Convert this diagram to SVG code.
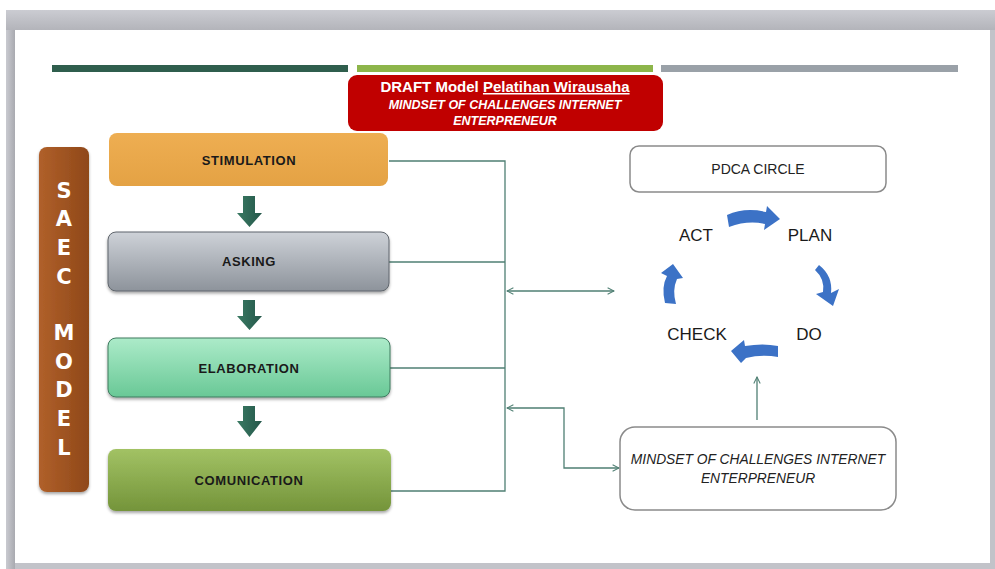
<svg xmlns="http://www.w3.org/2000/svg" width="995" height="569" viewBox="0 0 995 569">
<style>
.box-t{font-family:"Liberation Sans",Arial,sans-serif;font-weight:bold;font-size:13px;fill:#1a1a1a;text-anchor:middle;letter-spacing:0.6px}
.saec{font-family:"DejaVu Sans","Liberation Sans",sans-serif;font-weight:bold;font-size:21px;fill:#ffffff;text-anchor:middle}
.title{font-family:"Liberation Sans",Arial,sans-serif;fill:#ffffff;text-anchor:middle;font-weight:bold}
.pd{font-family:"Liberation Sans",Arial,sans-serif;font-size:17px;fill:#1a1a1a;text-anchor:middle}
.conn{fill:none;stroke:#4f7f73;stroke-width:1.3}
.blue{fill:#3c72c6}
.darr{fill:url(#gArr)}
</style>
<defs>
<linearGradient id="gFrameL" x1="0" y1="0" x2="1" y2="0"><stop offset="0" stop-color="#c9cad0"/><stop offset="1" stop-color="#a9aab0"/></linearGradient>
<linearGradient id="gFrameT" x1="0" y1="0" x2="0" y2="1"><stop offset="0" stop-color="#cbccd2"/><stop offset="1" stop-color="#b3b4ba"/></linearGradient>
<linearGradient id="gSaec" x1="0" y1="0" x2="1" y2="0"><stop offset="0" stop-color="#b0602a"/><stop offset="1" stop-color="#8f4819"/></linearGradient>
<linearGradient id="gStim" x1="0" y1="0" x2="0" y2="1"><stop offset="0" stop-color="#eeae52"/><stop offset="1" stop-color="#e4a244"/></linearGradient>
<linearGradient id="gAsk" x1="0" y1="0" x2="0" y2="1"><stop offset="0" stop-color="#ced2d8"/><stop offset="1" stop-color="#8d939b"/></linearGradient>
<linearGradient id="gElab" x1="0" y1="0" x2="0" y2="1"><stop offset="0" stop-color="#acebc9"/><stop offset="1" stop-color="#69c896"/></linearGradient>
<linearGradient id="gCom" x1="0" y1="0" x2="0" y2="1"><stop offset="0" stop-color="#a2c264"/><stop offset="1" stop-color="#74943a"/></linearGradient>
<linearGradient id="gArr" x1="0" y1="0" x2="1" y2="0"><stop offset="0" stop-color="#3a7a63"/><stop offset="1" stop-color="#24574a"/></linearGradient>
<marker id="mh" viewBox="0 0 10 10" refX="9" refY="5" markerWidth="8" markerHeight="8" markerUnits="userSpaceOnUse" orient="auto-start-reverse"><path d="M1,1 L9,5 L1,9" fill="none" stroke="#4f7f73" stroke-width="1.3"/></marker>
<filter id="sh" x="-5%" y="-10%" width="110%" height="130%"><feDropShadow dx="0" dy="2" stdDeviation="1.5" flood-color="#000" flood-opacity="0.35"/></filter>
</defs>

<!-- slide frame -->
<rect x="0" y="0" width="995" height="569" fill="#ffffff"/>
<rect x="6" y="10" width="989" height="559" fill="#c2c3c9"/>
<rect x="6" y="10" width="989" height="20" fill="url(#gFrameT)"/>
<rect x="6" y="30" width="9" height="539" fill="url(#gFrameL)"/>
<rect x="15" y="30" width="975" height="533" fill="#ffffff"/>

<!-- top lines -->
<rect x="52" y="65" width="296" height="7" fill="#2f5e4d"/>
<rect x="357" y="65" width="296" height="7" fill="#8db54a"/>
<rect x="661" y="65" width="297" height="7" fill="#9aa1a8"/>

<!-- title -->
<g id="title">
<rect x="348" y="75" width="315" height="56" rx="9" fill="#c00000"/>
<text class="title" x="505" y="92" font-size="15">DRAFT Model <tspan text-decoration="underline">Pelatihan Wirausaha</tspan></text>
<text class="title" x="505" y="109" font-size="12.5" font-style="italic">MINDSET OF CHALLENGES INTERNET</text>
<text class="title" x="505" y="125" font-size="12.5" font-style="italic">ENTERPRENEUR</text>
</g>

<!-- SAEC model bar -->
<g id="saec">
<rect x="39" y="147" width="50" height="345" rx="8" fill="url(#gSaec)" filter="url(#sh)"/>
<text class="saec" x="64" y="198">S</text>
<text class="saec" x="64" y="226">A</text>
<text class="saec" x="64" y="255">E</text>
<text class="saec" x="64" y="284">C</text>
<text class="saec" x="64" y="340">M</text>
<text class="saec" x="64" y="369">O</text>
<text class="saec" x="64" y="397">D</text>
<text class="saec" x="64" y="426">E</text>
<text class="saec" x="64" y="455">L</text>
</g>

<!-- connectors -->
<g id="connectors">
<path class="conn" d="M389,161 H505 V491 H391"/>
<path class="conn" d="M389,262 H505"/>
<path class="conn" d="M390,368 H505"/>
<path class="conn" d="M507,291 H614" marker-start="url(#mh)" marker-end="url(#mh)"/>
<path class="conn" d="M507,408 H564 V468 H619" marker-start="url(#mh)" marker-end="url(#mh)"/>
<path class="conn" d="M757,420 V377" marker-end="url(#mh)"/>
<!-- flow arrows -->
<path class="darr" d="M243,196 H255 V213 H262 L249.5,227 L237,213 H243 Z"/>
<path class="darr" d="M243,300 H255 V316 H262 L249.5,330 L237,316 H243 Z"/>
<path class="darr" d="M243,406 H255 V421 H262 L249.5,437 L237,421 H243 Z"/>
<!-- PDCA cycle arrows -->
<path class="blue" d="M727,215 Q745,207 766,212 L767,206 L780,219 L764,230 L765,224 Q748,220 729,227 Z"/>
<path class="blue" d="M819,265 Q833,276 831,293 L839,289 L833,306 L816,294 L823,292 Q825,279 815,270 Z"/>
<path class="blue" d="M778,346 Q763,343 745,346 L744,340 L731,351 L741,363 L746,358 Q762,354 778,357 Z"/>
<path class="blue" d="M665,303 Q661,287 667,276 L661,273 L673,264 L683,278 L677,279 Q672,290 676,304 Z"/>
</g>

<!-- SAEC step boxes -->
<g id="stimulation">
<rect x="109" y="133" width="279" height="53" rx="8" fill="url(#gStim)"/>
<text class="box-t" x="249" y="165">STIMULATION</text>
</g>
<g id="asking">
<rect x="108" y="232" width="281" height="59" rx="8" fill="url(#gAsk)" stroke="#5f656c" stroke-width="1" filter="url(#sh)"/>
<text class="box-t" x="249" y="266">ASKING</text>
</g>
<g id="elaboration">
<rect x="108" y="338" width="282" height="59" rx="8" fill="url(#gElab)" stroke="#3f7b5f" stroke-width="1" filter="url(#sh)"/>
<text class="box-t" x="249" y="373">ELABORATION</text>
</g>
<g id="comunication">
<rect x="108" y="449" width="283" height="62" rx="8" fill="url(#gCom)" filter="url(#sh)"/>
<text class="box-t" x="249" y="485">COMUNICATION</text>
</g>

<!-- PDCA -->
<g id="pdca-circle">
<rect x="630" y="146" width="256" height="46" rx="9" fill="#ffffff" stroke="#8a8a8a" stroke-width="1.5"/>
<text x="758" y="174" font-family="Liberation Sans,Arial,sans-serif" font-size="14" fill="#222" text-anchor="middle">PDCA CIRCLE</text>
</g>
<g id="act"><text class="pd" x="696" y="241">ACT</text></g>
<g id="plan"><text class="pd" x="810" y="241">PLAN</text></g>
<g id="do"><text class="pd" x="809" y="340">DO</text></g>
<g id="check"><text class="pd" x="697" y="340">CHECK</text></g>

<g id="mindset">
<rect x="620" y="427" width="276" height="83" rx="15" fill="#ffffff" stroke="#8a8a8a" stroke-width="1.5"/>
<text x="758" y="464" font-family="Liberation Sans,Arial,sans-serif" font-size="13.8" font-style="italic" fill="#222" text-anchor="middle">MINDSET OF CHALLENGES INTERNET</text>
<text x="758" y="483" font-family="Liberation Sans,Arial,sans-serif" font-size="13.8" font-style="italic" fill="#222" text-anchor="middle">ENTERPRENEUR</text>
</g>
</svg>
